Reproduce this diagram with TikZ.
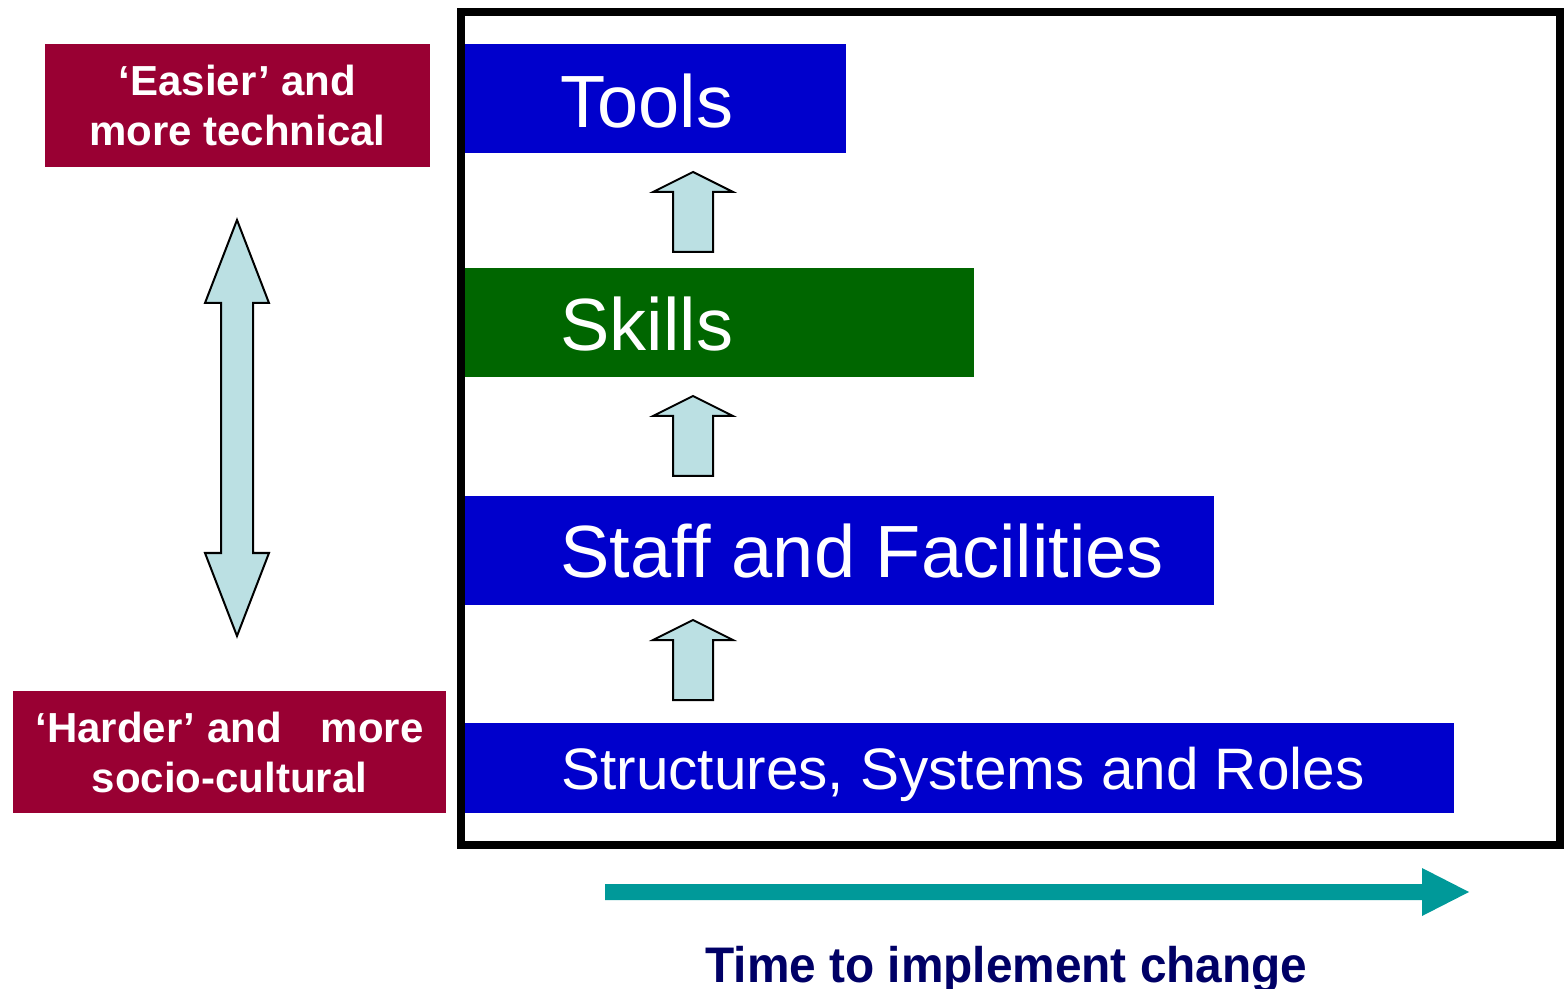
\documentclass[tikz,border=0pt]{standalone}
\usepackage{fontspec}
\setmainfont{Liberation Sans}
\definecolor{maroon}{RGB}{153,0,51}
\definecolor{boxblue}{RGB}{0,0,204}
\definecolor{boxgreen}{RGB}{0,102,0}
\definecolor{lightblue}{RGB}{187,224,227}
\definecolor{teal}{RGB}{0,153,153}
\definecolor{navy}{RGB}{0,0,102}
\begin{document}
\begin{tikzpicture}[x=0.5pt,y=-0.5pt,
  sidebox/.style={fill=maroon,text=white,inner sep=0pt,align=center,
    font=\bfseries\fontsize{21pt}{25pt}\selectfont},
  bar/.style={inner sep=0pt,anchor=north west},
  bartext/.style={text=white,inner sep=0pt,anchor=base west},
  blockarrow/.style={fill=lightblue,draw=black,line width=1pt,line join=miter}]
\useasboundingbox (0,0) rectangle (1564,989);
% frame
\draw[line width=4pt] (461,12.5) rectangle (1560,844.5);
% left boxes
\node[sidebox,minimum width=192.5pt,minimum height=61.5pt] (easier) at (237.5,105.5)
  {‘Easier’ and\\more technical};
\node[sidebox,minimum width=216.5pt,minimum height=61pt] (harder) at (229.5,752)
  {‘Harder’ and\hspace{19.5pt}more\\socio-cultural};
% double arrow
\draw[blockarrow] (237,220) -- (269,303) -- (253,303) -- (253,553) -- (269,553)
  -- (237,636) -- (205,553) -- (221,553) -- (221,303) -- (205,303) -- cycle;
% bars
\node[bar,fill=boxblue,minimum width=190.5pt,minimum height=54.5pt] (tools) at (465,44) {};
\node[bar,fill=boxgreen,minimum width=254.5pt,minimum height=54.5pt] (skills) at (465,268) {};
\node[bar,fill=boxblue,minimum width=374.5pt,minimum height=54.5pt] (staff) at (465,496) {};
\node[bar,fill=boxblue,minimum width=494.5pt,minimum height=45pt] (struct) at (465,723) {};
\node[bartext,font=\fontsize{37pt}{40pt}\selectfont] (toolst) at (560,128) {Tools};
\node[bartext,font=\fontsize{37pt}{40pt}\selectfont] (skillst) at (560,351) {Skills};
\node[bartext,font=\fontsize{37pt}{40pt}\selectfont] (stafft) at (560,577) {Staff and Facilities};
\node[bartext,font=\fontsize{29.25pt}{32pt}\selectfont] (structt) at (561,789) {Structures, Systems and Roles};
% small up arrows
\foreach \dy in {0,224,448}{
  \draw[blockarrow] (693,172+\dy) -- (733,192+\dy) -- (713,192+\dy) -- (713,252+\dy)
    -- (673,252+\dy) -- (673,192+\dy) -- (653,192+\dy) -- cycle;
}
% time arrow
\fill[teal] (605,884) -- (1422,884) -- (1422,868) -- (1469,892) -- (1422,916)
  -- (1422,900) -- (605,900) -- cycle;
\node[text=navy,inner sep=0pt,anchor=base west,font=\bfseries\fontsize{25pt}{28pt}\selectfont]
  (time) at (705,982) {\scalebox{0.956}[1]{Time to implement change}};
\end{tikzpicture}
\end{document}
